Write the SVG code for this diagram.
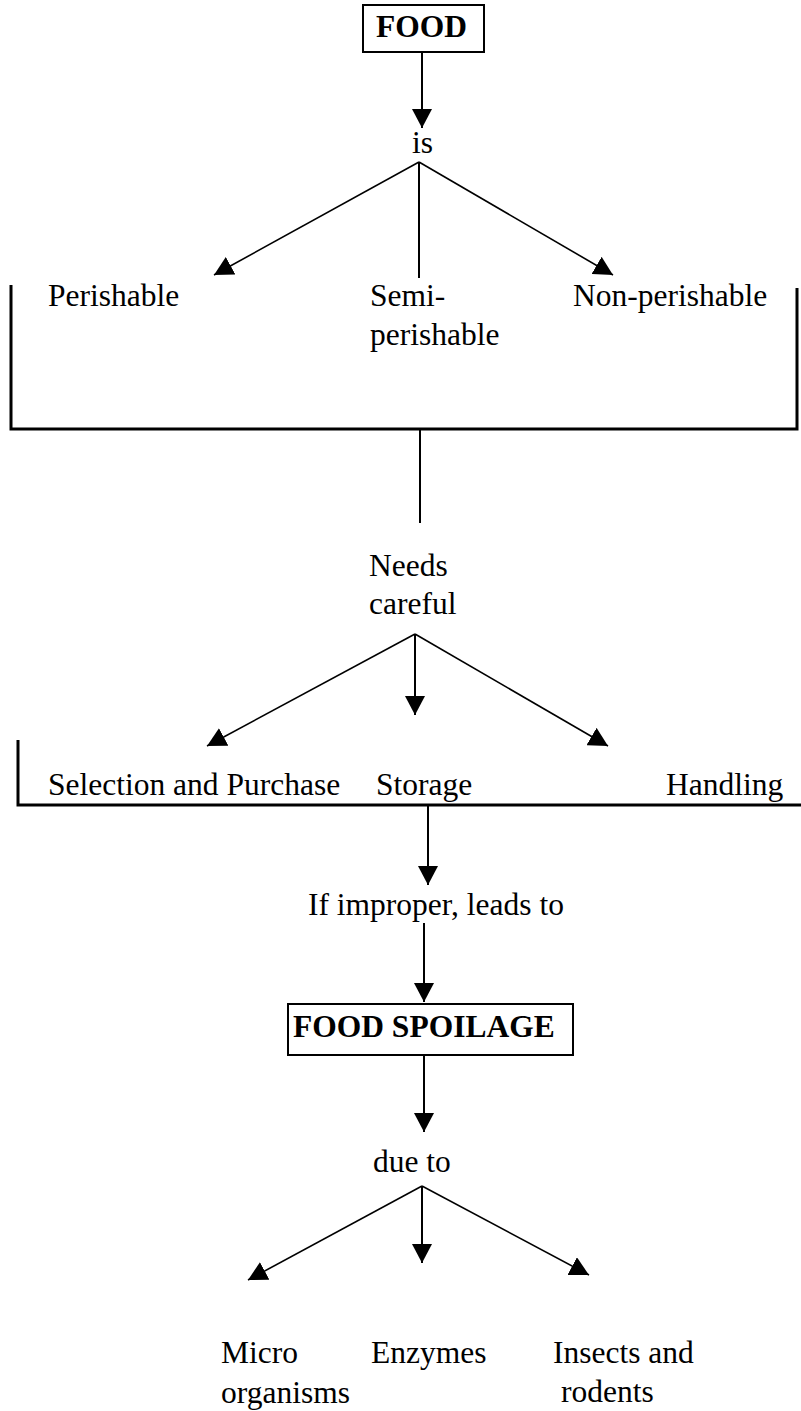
<svg xmlns="http://www.w3.org/2000/svg" width="801" height="1411" viewBox="0 0 801 1411">
<defs>
<marker id="ah" markerUnits="userSpaceOnUse" markerWidth="19" markerHeight="20" viewBox="0 0 19 20" refX="19" refY="10" orient="auto">
<path d="M0,0 L19,10 L0,20 z" fill="#000"/>
</marker>
</defs>
<style>
.t{font-family:"Liberation Serif","Times New Roman",serif;font-size:31.5px;fill:#000}
.b{font-weight:bold}
.c{stroke:#000;stroke-width:2;fill:none}
.d{stroke:#000;stroke-width:1.6;fill:none}
.br{stroke:#000;stroke-width:3;fill:none}
.box{stroke:#000;stroke-width:2;fill:#fff}
</style>
<rect width="801" height="1411" fill="#fff"/>
<g id="connectors">
<line class="c" x1="422" y1="52" x2="422" y2="128" marker-end="url(#ah)"/>
<line class="d" x1="419" y1="162" x2="214" y2="275" marker-end="url(#ah)"/>
<line class="c" x1="419" y1="162" x2="419" y2="278"/>
<line class="d" x1="419" y1="162" x2="613" y2="275" marker-end="url(#ah)"/>
<path class="br" d="M11,285 V429 H797 V288"/>
<line class="c" x1="420" y1="429" x2="420" y2="523"/>
<line class="d" x1="415" y1="634" x2="207" y2="746" marker-end="url(#ah)"/>
<line class="c" x1="415" y1="634" x2="415" y2="715" marker-end="url(#ah)"/>
<line class="d" x1="415" y1="634" x2="608" y2="746" marker-end="url(#ah)"/>
<path class="br" d="M18,740 V805 H801"/>
<line class="c" x1="428" y1="805" x2="428" y2="885" marker-end="url(#ah)"/>
<line class="c" x1="424" y1="923" x2="424" y2="1002" marker-end="url(#ah)"/>
<line class="c" x1="424" y1="1055" x2="424" y2="1132" marker-end="url(#ah)"/>
<line class="d" x1="422" y1="1186" x2="248" y2="1280" marker-end="url(#ah)"/>
<line class="c" x1="422" y1="1186" x2="422" y2="1263" marker-end="url(#ah)"/>
<line class="d" x1="422" y1="1186" x2="589" y2="1275" marker-end="url(#ah)"/>
</g>
<g id="food"><rect class="box" x="363" y="5" width="121" height="47"/><text class="t b" x="376" y="37">FOOD</text></g>
<g id="is"><text class="t" x="412" y="153">is</text></g>
<g id="perishable"><text class="t" x="48" y="306">Perishable</text></g>
<g id="semi"><text class="t" x="370" y="306">Semi-</text><text class="t" x="370" y="345">perishable</text></g>
<g id="nonperishable"><text class="t" x="573" y="306">Non-perishable</text></g>
<g id="needs"><text class="t" x="369" y="576">Needs</text><text class="t" x="369" y="614">careful</text></g>
<g id="selection"><text class="t" x="48" y="795">Selection and Purchase</text></g>
<g id="storage"><text class="t" x="376" y="795">Storage</text></g>
<g id="handling"><text class="t" x="666" y="795">Handling</text></g>
<g id="improper"><text class="t" x="308" y="915">If improper, leads to</text></g>
<g id="spoilage"><rect class="box" x="288" y="1004" width="285" height="51"/><text class="t b" x="293" y="1037">FOOD SPOILAGE</text></g>
<g id="dueto"><text class="t" x="373" y="1172">due to</text></g>
<g id="micro"><text class="t" x="221" y="1363">Micro</text><text class="t" x="221" y="1403">organisms</text></g>
<g id="enzymes"><text class="t" x="371" y="1363">Enzymes</text></g>
<g id="insects"><text class="t" x="553" y="1363">Insects and</text><text class="t" x="561" y="1402">rodents</text></g>
</svg>
